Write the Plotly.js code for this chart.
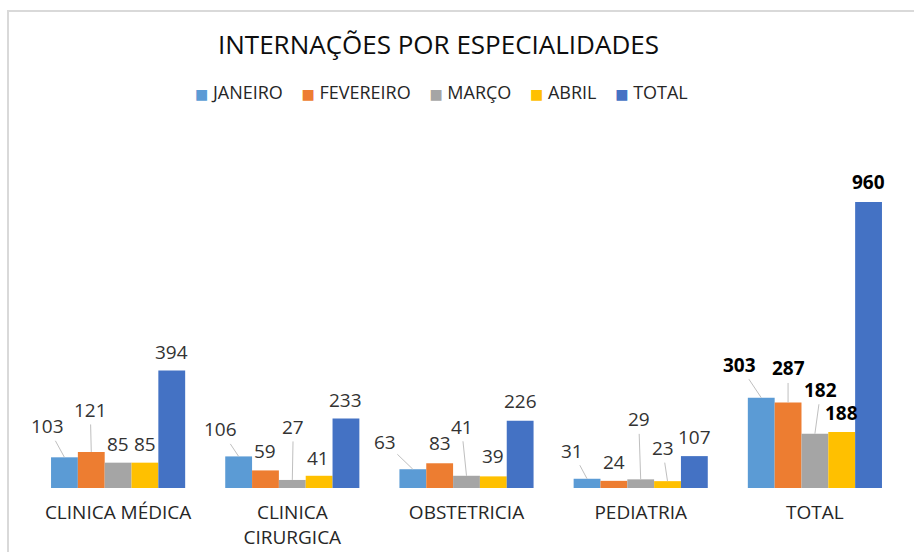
<!DOCTYPE html>
<html>
<head>
<meta charset="utf-8">
<script src="https://cdn.plot.ly/plotly-3.0.1.min.js"></script>
<style>
  html, body { margin: 0; padding: 0; background: #ffffff; }
  #wrap { position: relative; width: 914px; height: 552px; overflow: hidden; }
  #chart { position: absolute; left: 0; top: 0; width: 914px; height: 552px; }
  #frame { position: absolute; left: 7px; top: 10px; right: -4px; bottom: -4px;
           border-top: 2px solid #d9d9d9; border-left: 2px solid #d9d9d9; pointer-events: none; }
</style>
</head>
<body>
<div id="wrap">
  <div id="chart"></div>
  <div id="frame"></div>
</div>
<script>
// ---- data ----
const categories = ['CLINICA MÉDICA', 'CLINICA<br>CIRURGICA', 'OBSTETRICIA', 'PEDIATRIA', 'TOTAL'];
const seriesNames = ['JANEIRO', 'FEVEREIRO', 'MARÇO', 'ABRIL', 'TOTAL'];
const janeiro   = [103, 106, 63, 31, 303];
const fevereiro = [121, 59, 83, 24, 287];
const marco     = [85, 27, 41, 29, 182];
const abril     = [85, 41, 39, 23, 188];
const total     = [394, 233, 226, 107, 960];

// ---- styling ----
const colors = ['#5B9BD5', '#ED7D31', '#A5A5A5', '#FFC000', '#4472C4'];
const FONT = '"Open Sans", "Noto Sans", sans-serif';
const BARGAP = 0.23;

// label placement (pixel offsets of label centre from bar top, and whether a leader line is drawn)
// rows: series, columns: categories
const labelOffsets = [
  [[-17, -31, 1], [-18, -27, 1], [-28, -27, 1], [-15, -28, 1], [-22, -33, 1]],
  [[-1, -42, 1],  [0, -19, 0],   [0, -20, 0],   [0, -19, 0],   [0, -34, 1]],
  [[0, -19, 0],   [1, -53, 1],   [-5, -49, 1],  [-2, -60, 1],  [6, -44, 1]],
  [[0, -19, 0],   [-1, -18, 0],  [0, -20, 0],   [-5, -33, 1],  [0, -19, 0]],
  [[0, -19, 0],   [0, -19, 0],   [0, -20, 0],   [0, -19, 0],   [0, -20, 0]]
];

const values = [janeiro, fevereiro, marco, abril, total];

const traces = values.map((v, i) => ({
  type: 'bar',
  name: seriesNames[i],
  x: categories,
  y: v,
  marker: { color: colors[i], line: { width: 0 } },
  hoverinfo: 'x+y+name',
  showlegend: false
}));

// annotations from data through the axis scale
const nSeries = values.length;
const barW = (1 - BARGAP) / nSeries;
const annotations = [];
values.forEach((v, i) => {
  v.forEach((val, g) => {
    const off = labelOffsets[i][g];
    const isTotalGroup = g === categories.length - 1;
    const xPos = g + (i - (nSeries - 1) / 2) * barW;
    const font = {
      family: FONT, size: 19,
      color: isTotalGroup ? '#000000' : '#333333'
    };
    const txt = isTotalGroup ? '<b>' + val + '</b>' : String(val);
    if (off[2]) {
      annotations.push({
        x: xPos, y: val, xref: 'x', yref: 'y',
        text: txt, font: font,
        showarrow: true, arrowhead: 0, arrowwidth: 1, arrowcolor: '#bfbfbf',
        ax: off[0], ay: off[1], standoff: 0, startstandoff: 0
      });
    } else {
      annotations.push({
        x: xPos, y: val, xref: 'x', yref: 'y',
        text: txt, font: font, showarrow: false,
        xshift: off[0], yshift: -off[1]
      });
    }
  });
});

// legend (series colour squares + names) as one centred text line
const NB = '\u00a0';
const legendText = seriesNames.map((n, i) =>
  '<span style="color:' + colors[i] + ';font-family:\'DejaVu Sans\';font-size:14px">\u25A0</span>' + NB + n
).join(NB + NB + NB + NB);
annotations.push({
  x: (441.5 - 31) / 871, xref: 'paper', xanchor: 'center',
  y: 1 + 98 / 298, yref: 'paper', yanchor: 'middle',
  text: legendText, showarrow: false,
  font: { family: FONT, size: 18, color: '#262626' }
});

const layout = {
  width: 914, height: 552,
  margin: { l: 31, r: 12, t: 190, b: 64 },
  paper_bgcolor: '#ffffff', plot_bgcolor: '#ffffff',
  barmode: 'group', bargap: BARGAP, bargroupgap: 0,
  title: {
    text: 'INTERNAÇÕES POR ESPECIALIDADES',
    font: { family: FONT, size: 26, color: '#0d0d0d' },
    x: 438.5 / 914, xanchor: 'center', xref: 'container',
    y: 1 - 45 / 552, yanchor: 'middle', yref: 'container'
  },
  showlegend: false,
  xaxis: {
    type: 'category', showgrid: false, zeroline: false, showline: false,
    ticks: '', ticklabelstandoff: 11,
    tickfont: { family: FONT, size: 19, color: '#262626' },
    range: [-0.5, 4.5], fixedrange: true
  },
  yaxis: {
    range: [0, 1000], visible: false, showgrid: false, zeroline: false, fixedrange: true
  },
  annotations: annotations
};

Plotly.newPlot('chart', traces, layout, { displayModeBar: false, staticPlot: true });
</script>
</body>
</html>
